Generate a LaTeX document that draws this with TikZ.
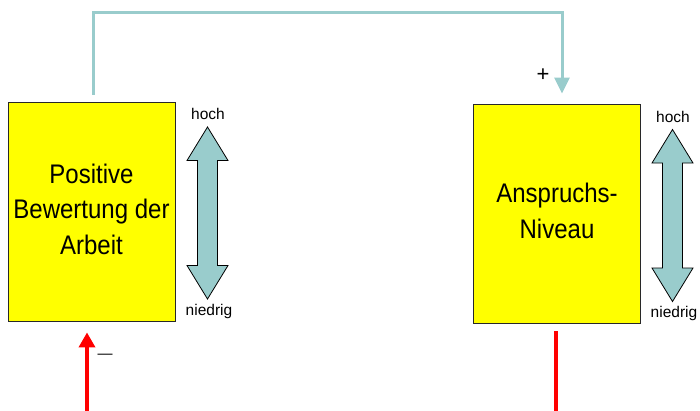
\documentclass[tikz,border=0pt]{standalone}
\usepackage{fontspec}
\setmainfont{Liberation Sans}
\usetikzlibrary{arrows.meta}
\definecolor{flowteal}{RGB}{153,204,204}
\definecolor{edgegray}{RGB}{40,40,40}
\definecolor{boxyellow}{RGB}{255,255,0}
% box caption: slightly narrowed lettering, centred lines
\newcommand{\boxcaption}[1]{\scalebox{1}[1.12]{\begin{tabular}{@{}c@{}}#1\end{tabular}}}
\tikzset{
  levelbox/.style={rectangle, draw=edgegray, line width=0.9pt, fill=boxyellow,
    minimum width=167pt, minimum height=219pt, inner sep=0pt, align=center,
    font=\fontsize{24}{31.7}\selectfont},
  scalelabel/.style={inner sep=0pt, font=\fontsize{15.5}{18}\selectfont},
  signlabel/.style={inner sep=0pt},
  posflow/.style={draw=flowteal, line width=3pt,
    -{Triangle[width=15pt,length=16pt]}},
  negflow/.style={draw=red, line width=3.5pt},
  pics/updown/.style={code={
    \draw[fill=flowteal, draw=black, line width=0.8pt]
      (0,-86) -- (20.5,-52.5) -- (10,-52.5) -- (10,52.5) -- (20.5,52.5)
      -- (0,86) -- (-20.5,52.5) -- (-10,52.5) -- (-10,-52.5)
      -- (-20.5,-52.5) -- cycle;
  }}
}
\begin{document}
\begin{tikzpicture}[x=1pt,y=-1pt]
  \useasboundingbox (0,0) rectangle (700,410);

  % the two quantities
  \node[levelbox] (L) at (91.5,211.5) {\boxcaption{Positive\\Bewertung der\\Arbeit}};
  \node[levelbox] (R) at (557,213.5) {\boxcaption{Anspruchs-\\Niveau}};

  % high/low scales beside each box
  \pic at (207.5,213) {updown};
  \node[scalelabel] (Lhi) at (208,114) {hoch};
  \node[scalelabel] (Llo) at (209,311) {niedrig};
  \pic at (672.5,215.5) {updown};
  \node[scalelabel] (Rhi) at (673,117) {hoch};
  \node[scalelabel] (Rlo) at (674,313) {niedrig};

  % positive influence: evaluation raises the aspiration level
  \draw[posflow, shorten <=7pt, shorten >=10pt]
    ([xshift=1.5pt]L.north) -- ++(0,-89) -| ([xshift=5pt]R.north);
  \node[signlabel, font=\fontsize{22}{24}\selectfont] (plus) at (543,75) {+};

  % negative influence back into the evaluation
  \coordinate (Lin) at (87,412);
  \draw[negflow, -{Triangle[width=16pt,length=15pt]}, shorten >=11pt]
    (Lin) -- (L.south -| Lin);
  \node[signlabel, font=\fontsize{15}{18}\selectfont] (minus) at (105,356) {—};

  \coordinate (Rout) at (556,412);
  \draw[negflow, shorten <=8pt] (R.south -| Rout) -- (Rout);
\end{tikzpicture}
\end{document}
